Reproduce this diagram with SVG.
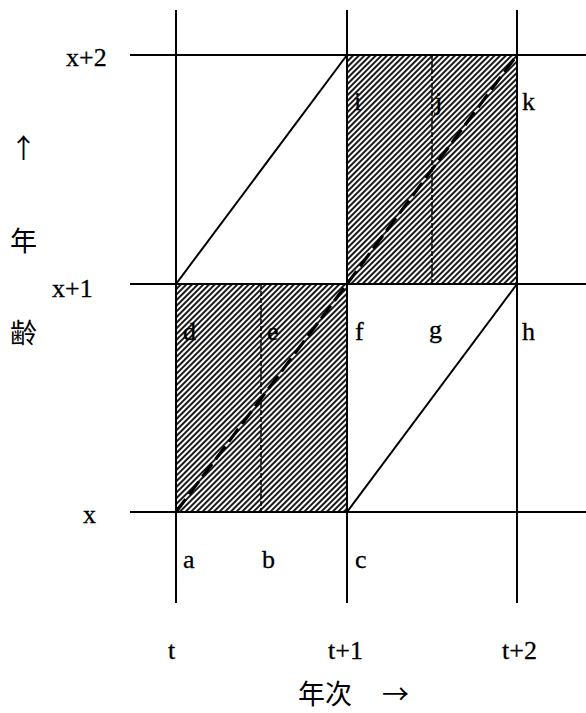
<svg xmlns="http://www.w3.org/2000/svg" width="586" height="713" viewBox="0 0 586 713">
<style>
.t{font-family:"Liberation Serif",serif;font-size:26px;fill:#000;stroke:#000;stroke-width:0.3}
.c{font-family:"Noto Sans CJK SC","Noto Sans CJK JP",sans-serif;font-size:27px;fill:#000}
.ln{stroke:#000;stroke-width:2;fill:none}
.dash{stroke:#000;stroke-width:1.5;stroke-dasharray:5,2;fill:none}
.diag{stroke:#000;stroke-width:3.2;stroke-dasharray:16,6;fill:none}
</style>
<defs>
<pattern id="hatch" patternUnits="userSpaceOnUse" width="4" height="4" patternTransform="rotate(-45)">
<rect width="4" height="4" fill="#fff"/>
<rect x="0" y="0" width="4" height="2" fill="#1a1a1a"/>
</pattern>
</defs>
<rect width="586" height="713" fill="#fff"/>
<g id="shaded">
<rect x="176" y="284" width="171" height="228" fill="url(#hatch)"/>
<rect x="347" y="55" width="170" height="229" fill="url(#hatch)"/>
</g>
<g id="connectors">
<line class="ln" x1="130" y1="55" x2="586" y2="55"/>
<line class="ln" x1="130" y1="284" x2="586" y2="284"/>
<line class="ln" x1="130" y1="512" x2="586" y2="512"/>
<line class="ln" x1="176" y1="10" x2="176" y2="603"/>
<line class="ln" x1="347" y1="10" x2="347" y2="603"/>
<line class="ln" x1="517" y1="10" x2="517" y2="603"/>
<line class="dash" x1="261" y1="284" x2="261" y2="512"/>
<line class="dash" x1="432" y1="55" x2="432" y2="284"/>
<line class="ln" x1="176" y1="284" x2="347" y2="55"/>
<line class="ln" x1="347" y1="512" x2="517" y2="284"/>
<line class="diag" x1="176" y1="512" x2="347" y2="284"/>
<line class="diag" x1="347" y1="284" x2="517" y2="55"/>
</g>
<g id="labels">
<text class="t" x="183" y="568">a</text>
<text class="t" x="262" y="568">b</text>
<text class="t" x="355" y="568">c</text>
<text class="t" x="183" y="340">d</text>
<text class="t" x="267" y="340">e</text>
<text class="t" x="355" y="340">f</text>
<text class="t" x="429" y="338">g</text>
<text class="t" x="522" y="340">h</text>
<text class="t" x="354" y="110">i</text>
<text class="t" x="435" y="110">j</text>
<text class="t" x="522" y="110">k</text>
<text class="t" x="66" y="66">x+2</text>
<text class="t" x="52" y="297">x+1</text>
<text class="t" x="83" y="523">x</text>
<text class="c" x="10" y="158">↑</text>
<text class="c" x="10" y="251">年</text>
<text class="c" x="10" y="343">齢</text>
<text class="t" x="168" y="659">t</text>
<text class="t" x="328" y="659">t+1</text>
<text class="t" x="502" y="659">t+2</text>
<text class="c" x="298" y="704">年次</text>
<text class="c" x="382" y="704">→</text>
</g>
</svg>
